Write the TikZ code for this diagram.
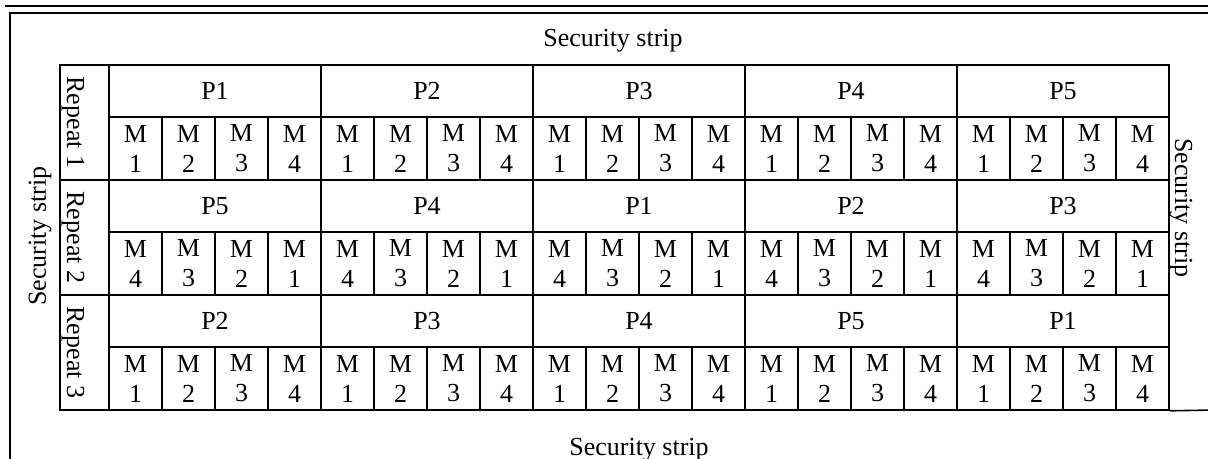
\documentclass[tikz,border=0pt]{standalone}
\usepackage{fontspec}
\setmainfont{Liberation Serif}

\begin{document}
\begin{tikzpicture}[x=0.5pt, y=-0.5pt, line width=0.8pt,
  every node/.style={inner sep=0pt, font=\fontsize{13}{15}\selectfont},
  repcell/.style={draw, minimum width=24.5pt, minimum height=57.5pt},
  pcell/.style={draw, minimum width=106pt, minimum height=26pt},
  mcell/.style={draw, minimum width=26.5pt, minimum height=31.5pt, align=center},
  frame/.style={line width=1pt}]
  \useasboundingbox (0,0) rectangle (1208,459);
  \draw[frame] (5,6.5) -- (1208,6.5);
  \draw[frame] (1208,13) -- (10,13) -- (10,470);
  % one block per repeat: plot order and module order
  \foreach \r/\plist/\mlist in {1/{1,2,3,4,5}/{1,2,3,4}, 2/{5,4,1,2,3}/{4,3,2,1}, 3/{2,3,4,5,1}/{1,2,3,4}} {
    \node[repcell] (rep\r) at (84.5, {115*\r+7.5}) {};
    \node[rotate=-90] (replab\r) at ([xshift=-5.75pt]rep\r.center) {Repeat \r};
    \foreach \p [count=\g] in \plist {
      \node[pcell] (p\r-\g) at ({212*\g+3}, {115*\r-24}) {P\p};
      \foreach \m [count=\j] in \mlist
        \node[mcell] (m\r-\g-\j) at ({212*\g+53*\j-129.5}, {115*\r+33.5}) {M\\\m};
    }
  }
  \node[anchor=base] (striptop) at (613,47) {Security strip};
  \node[anchor=base] (stripbot) at (639,455) {Security strip};
  \node[rotate=90] (stripleft) at (40,236) {Security strip};
  \node[rotate=-90] (stripright) at (1181,208) {Security strip};
  \coordinate (edge) at (1215,410);
  \draw (m3-5-4.south east) -- (edge);
\end{tikzpicture}
\end{document}
